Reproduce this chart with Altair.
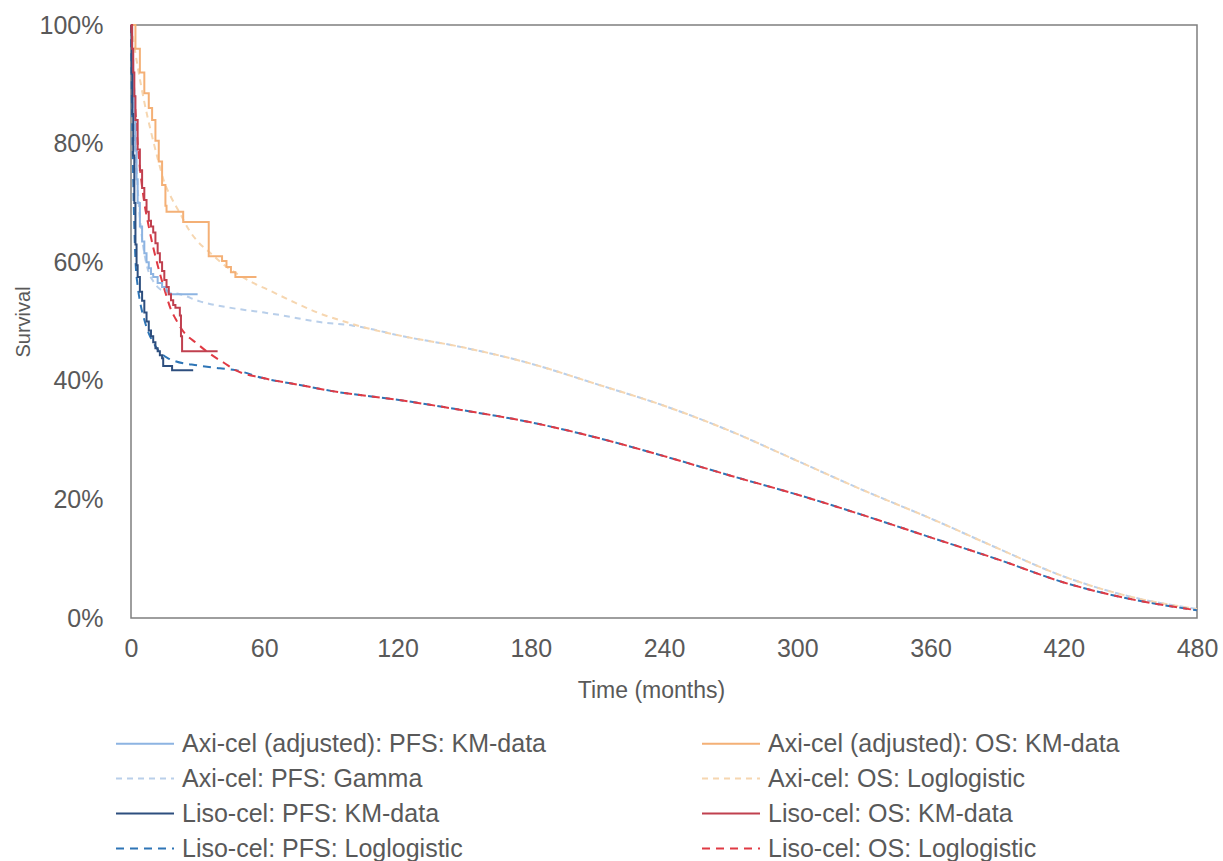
import altair as alt
import pandas as pd

# ---------------- data (months, survival %) ----------------
axi_pfs_km_t = [0, 0.5, 1, 1.5, 2, 2.5, 3, 4, 5, 6, 7, 8, 9, 10, 12, 14, 16, 17, 30]
axi_pfs_km_s = [100, 94, 89, 84, 79, 74, 70, 66, 63.5, 61.5, 60, 59, 58, 57.5, 56.5, 55.8, 55.2, 54.6, 54.6]

axi_os_km_t = [0, 2, 4, 6, 8, 9.5, 11, 12.5, 14, 15.5, 16, 23.5, 35, 41, 43, 45, 47, 56.5]
axi_os_km_s = [100, 96, 92, 88.5, 86, 84, 80.5, 77, 73, 69.5, 68.5, 66.8, 61, 60.2, 59.2, 58.3, 57.5, 57.5]

liso_pfs_km_t = [0, 0.3, 0.6, 1, 1.5, 2, 2.5, 3, 4, 5, 6, 7, 8, 9, 10, 11, 12, 13, 14, 14.5, 18.5, 28]
liso_pfs_km_s = [100, 92, 85, 78, 70, 63, 59.5, 57.5, 55, 53.5, 51.5, 50, 48.5, 47.5, 46.5, 45.5, 45, 44.3, 43.8, 42.5, 41.8, 41.8]

liso_os_km_t = [0, 0.5, 1, 1.5, 2, 3, 4, 5, 6, 7, 8, 9, 10, 11, 12, 13, 14, 15, 16, 17, 18, 19, 20, 22, 22.5, 23, 39]
liso_os_km_s = [100, 96, 92, 88, 84, 79, 75.5, 72.5, 70.5, 68.5, 67, 66, 65, 63.2, 61.5, 60, 58.5, 57, 55.8, 54.6, 53.6, 52.8, 52.3, 51, 47.5, 45, 45]

axi_os_ll_t = [0, 3, 6, 9, 12, 15, 18, 22, 26, 30, 35, 42, 48, 55, 62, 72, 84, 96, 106, 120, 150, 180, 210,
               240, 270, 300, 330, 360, 390, 420, 450, 480]
axi_os_ll_s = [100, 93, 87, 82, 77.5, 73.5, 71, 68.3, 65.5, 63.5, 61.8, 59.5, 58, 56.5, 55.3, 53.5, 51.5, 50, 48.9,
               47.7, 45.6, 42.9, 39.4, 35.8, 31.5, 26.5, 21.5, 16.8, 11.8, 7, 3.6, 1.5]

axi_pfs_gamma_t = [0, 1, 2, 3, 4, 5, 6, 8, 10, 12, 16, 22, 31, 45, 60, 67, 85, 100, 106, 120, 150, 180, 210,
                   240, 270, 300, 330, 360, 390, 420, 450, 480]
axi_pfs_gamma_s = [100, 88, 79, 72.5, 67.5, 64, 61.5, 58.3, 56.8, 55.8, 55, 54.6, 53.4, 52.3, 51.5, 51.1, 49.9, 49.3,
                   48.9, 47.7, 45.6, 42.9, 39.4, 35.8, 31.5, 26.5, 21.5, 16.8, 11.8, 7, 3.6, 1.5]

liso_os_ll_t = [0, 1, 2, 3, 4, 6, 8, 10, 12, 15, 18, 20, 23, 30, 35, 42, 47, 59, 76, 90, 120, 150, 180, 211,
                240, 270, 301, 330, 360, 391, 420, 450, 480]
liso_os_ll_s = [100, 92, 85.5, 80, 76, 70, 66, 62.5, 59.5, 55.5, 52, 50.5, 48.6, 46.2, 44.7, 43, 41.8, 40.5, 39.3,
                38.3, 36.8, 35, 33, 30.3, 27.3, 24, 20.7, 17.3, 13.6, 9.8, 6, 3.2, 1.3]

liso_pfs_ll_t = [0, 0.5, 1, 1.5, 2, 3, 4, 6, 8, 10, 12, 16.7, 20, 30, 40, 47, 59, 76, 90, 120, 150, 180, 211,
                 240, 270, 301, 330, 360, 391, 420, 450, 480]
liso_pfs_ll_s = [100, 85, 74, 66, 60.5, 56, 53.5, 50.3, 48, 46.5, 45.3, 43.8, 43.3, 42.6, 42.1, 41.8, 40.5, 39.3,
                 38.3, 36.8, 35, 33, 30.3, 27.3, 24, 20.7, 17.3, 13.6, 9.8, 6, 3.2, 1.3]

x_ticks = [0, 60, 120, 180, 240, 300, 360, 420, 480]
y_ticks = [0, 20, 40, 60, 80, 100]

# legend order (column-major: left column PFS, right column OS)
legend_order = [
    "Axi-cel (adjusted): PFS: KM-data", "Axi-cel: PFS: Gamma",
    "Liso-cel: PFS: KM-data", "Liso-cel: PFS: Loglogistic",
    "Axi-cel (adjusted): OS: KM-data", "Axi-cel: OS: Loglogistic",
    "Liso-cel: OS: KM-data", "Liso-cel: OS: Loglogistic",
]
colors = ["#8DB4E2", "#B9CFEA", "#2D4E7E", "#2E75B6", "#F4B076", "#F6D6B0", "#C0404F", "#E03A44"]
dashes = [[1, 0], [6, 5], [1, 0], [8, 6], [1, 0], [6, 5], [1, 0], [8, 6]]
widths = [2, 2, 2.2, 2.5, 2, 2, 3, 2.5]

# draw order: fits first, then KM
series = [
    ("Axi-cel: PFS: Gamma", "fit", axi_pfs_gamma_t, axi_pfs_gamma_s),
    ("Axi-cel: OS: Loglogistic", "fit", axi_os_ll_t, axi_os_ll_s),
    ("Liso-cel: PFS: Loglogistic", "fit", liso_pfs_ll_t, liso_pfs_ll_s),
    ("Liso-cel: OS: Loglogistic", "fit", liso_os_ll_t, liso_os_ll_s),
    ("Axi-cel (adjusted): PFS: KM-data", "km", axi_pfs_km_t, axi_pfs_km_s),
    ("Axi-cel (adjusted): OS: KM-data", "km", axi_os_km_t, axi_os_km_s),
    ("Liso-cel: PFS: KM-data", "km", liso_pfs_km_t, liso_pfs_km_s),
    ("Liso-cel: OS: KM-data", "km", liso_os_km_t, liso_os_km_s),
]
rows = []
for i, (name, kind, ts, ss) in enumerate(series):
    for t, s in zip(ts, ss):
        rows.append({"series": name, "kind": kind, "t": t, "s": s, "k": i})
df = pd.DataFrame(rows)

FONT = "Liberation Sans"
GREY = "#595959"
TICK_FS = 25
TITLE_FS = 23
LEG_FS = 25

legend = alt.Legend(
    title=None, orient="none", legendX=-16, legendY=703, columns=2, direction="vertical",
    symbolType="M-1,0H3", symbolSize=841, symbolStrokeWidth=2.5,
    labelFontSize=LEG_FS, labelColor=GREY, labelFont=FONT, labelLimit=900,
    labelOffset=36, columnPadding=151, rowPadding=6, padding=0,
)

base = alt.Chart(df).encode(
    x=alt.X("t:Q", scale=alt.Scale(domain=[0, 480], nice=False, zero=False),
            axis=alt.Axis(values=x_ticks, title="Time (months)", grid=False, ticks=False, domain=False,
                          labelFlush=False, labelFontSize=TICK_FS, labelColor=GREY, labelFont=FONT,
                          labelPadding=18, titleFontSize=TITLE_FS, titleFontWeight="normal", titleColor=GREY,
                          titleFont=FONT, titlePadding=18, titleX=520)),
    y=alt.Y("s:Q", scale=alt.Scale(domain=[0, 100], nice=False),
            axis=alt.Axis(values=y_ticks, labelExpr="datum.value + '%'", title="Survival", grid=False,
                          ticks=False, domain=False, labelFlush=False, labelFontSize=TICK_FS, labelColor=GREY,
                          labelFont=FONT, labelPadding=28, titleFontSize=20, titleFontWeight="normal",
                          titleColor=GREY, titleFont=FONT, titlePadding=6)),
    color=alt.Color("series:N", scale=alt.Scale(domain=legend_order, range=colors), legend=legend),
    strokeDash=alt.StrokeDash("series:N", scale=alt.Scale(domain=legend_order, range=dashes), legend=legend),
    strokeWidth=alt.StrokeWidth("series:N", scale=alt.Scale(domain=legend_order, range=widths), legend=None),
    detail="k:O",
    order="t:Q",
)

fits = base.transform_filter(alt.datum.kind == "fit").mark_line(interpolate="monotone")
km = base.transform_filter(alt.datum.kind == "km").mark_line(interpolate="step-after")

chart = alt.layer(fits, km).properties(
    width=1066, height=593,
    padding={"left": 131, "top": 25, "right": 26, "bottom": 243},
    autosize=alt.AutoSizeParams(type="none"),
    background="white",
).configure_view(stroke="#7F7F7F", strokeWidth=1.5)

chart.save("out.html", embed_options={"renderer": "svg", "actions": False})
